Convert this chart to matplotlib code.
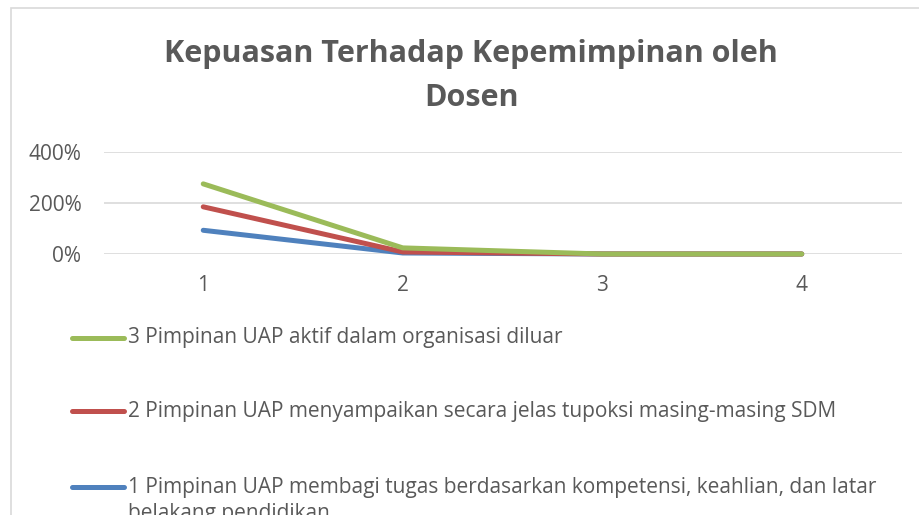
import numpy as np
import matplotlib
matplotlib.use('Agg')
import matplotlib.pyplot as plt
from matplotlib.lines import Line2D
from matplotlib.patches import Rectangle
from matplotlib.ticker import FuncFormatter

### Data (stacked line chart, values as fractions)
categories = ['1', '2', '3', '4']
series_names = [
    '1 Pimpinan UAP membagi tugas berdasarkan kompetensi, keahlian, dan latar',
    '2 Pimpinan UAP menyampaikan secara jelas tupoksi masing-masing SDM',
    '3 Pimpinan UAP aktif dalam organisasi diluar',
]
extra_line = 'belakang pendidikan'
blue_vals = [0.93, 0.04, 0.0, 0.0]
red_vals = [0.92, 0.04, 0.0, 0.0]
green_vals = [0.90, 0.16, 0.0, 0.0]
colors = ['#4F81BD', '#C0504D', '#9BBB59']
yticks = [0, 2, 4]

title = 'Kepuasan Terhadap Kepemimpinan oleh\nDosen'

plt.rcParams['font.family'] = ['Open Sans', 'DejaVu Sans']
txt_col = '#595959'
grid_col = '#D9D9D9'

W, H = 919, 515
fig = plt.figure(figsize=(W / 100, H / 100), dpi=100)

# plot area in pixel coordinates from the reference
left, right, top, bottom = 103.5, 901.5, 152, 254
ax = fig.add_axes([left / W, 1 - bottom / H, (right - left) / W, (bottom - top) / H])

x = np.arange(1, len(categories) + 1)
stacked = np.cumsum([blue_vals, red_vals, green_vals], axis=0)
lines = []
for vals, c in zip(stacked, colors):
    ln, = ax.plot(x, vals, color=c, lw=3.6, solid_capstyle='round', clip_on=False)
    lines.append(ln)

ax.set_xlim(0.5, len(categories) + 0.5)
ax.set_ylim(0, 4)
ax.set_xticks(x)
ax.set_xticklabels(categories)
ax.set_yticks(yticks)
ax.yaxis.set_major_formatter(FuncFormatter(lambda v, p: f'{v * 100:.0f}%'))
ax.tick_params(axis='both', length=0, labelsize=15, labelcolor=txt_col)
ax.tick_params(axis='y', pad=16)
ax.tick_params(axis='x', pad=15)
ax.grid(axis='y', color=grid_col, lw=1.2)
ax.set_axisbelow(True)
for s in ax.spines.values():
    s.set_visible(False)

# title
fig.text(471 / W, 1 - 76 / H, title, ha='center', va='center', fontsize=22,
         fontweight='bold', color=txt_col, linespacing=1.62)

# legend drawn by hand (Excel style, last entry wraps and is cut off)
leg_y = [487, 411, 338]
for ln, name, y in zip(lines, series_names, leg_y):
    fig.add_artist(Line2D([72 / W, 124 / W], [1 - y / H, 1 - y / H], transform=fig.transFigure,
                          color=ln.get_color(), lw=3.6, solid_capstyle='round'))
    fig.text(128 / W, 1 - y / H, name, ha='left', va='center', fontsize=15, color=txt_col)
fig.text(128 / W, 1 - 514 / H, extra_line, ha='left', va='center', fontsize=15, color=txt_col)

# chart border
fig.add_artist(Rectangle((10.5 / W, -0.1), 1.0, 1.1 - 7.5 / H, transform=fig.transFigure,
                         fill=False, edgecolor=grid_col, lw=1.2))

fig.savefig('out.png', dpi=100)
